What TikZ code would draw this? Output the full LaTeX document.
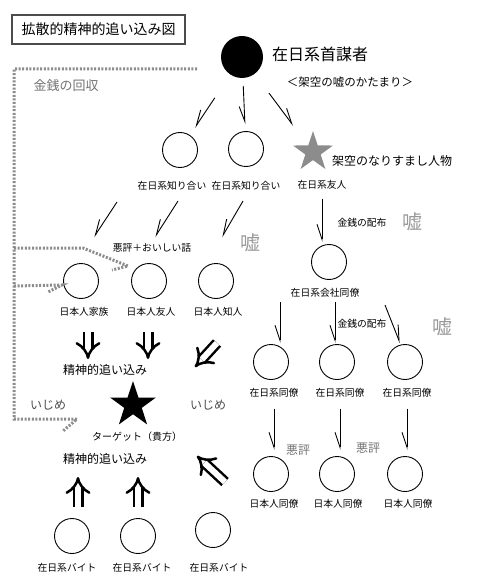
\documentclass[tikz,border=0pt]{standalone}
\usepackage{fontspec}
\setmainfont{Noto Sans CJK JP}
\usetikzlibrary{shapes.geometric, arrows.meta}

\begin{document}
\begin{tikzpicture}[x=1pt, y=-1pt,
    person/.style={circle, draw, line width=0.9pt, minimum size=35pt, inner sep=0pt},
    lbl/.style={font=\fontsize{9.8}{11}\selectfont, inner sep=0pt},
    mid/.style={font=\fontsize{12}{14}\selectfont, inner sep=0pt},
    lie/.style={font=\fontsize{20}{22}\selectfont, text=black!40, inner sep=0pt},
    barb/.style={line width=0.9pt, -{Straight Barb[harpoon, swap, length=15pt, width=10pt]}},
    barbr/.style={line width=0.9pt, -{Straight Barb[harpoon, length=15pt, width=10pt]}},
    push/.style={double, double distance=6pt, line width=2.5pt, -{Implies}},
    money/.style={line width=3pt, black!45, dash pattern=on 2pt off 1.6pt}]
    \useasboundingbox (0,0) rectangle (483,585);

    % Title
    \node[draw=black!70, line width=1.5pt, minimum width=173pt, minimum height=29pt,
          font=\fontsize{14}{16}\selectfont] (title) at (98.5,29.5) {拡散的精神的追い込み図};

    % Ringleader
    \node[circle, fill=black, minimum size=42pt, inner sep=0pt] (boss) at (242,57) {};
    \node[font=\fontsize{16}{18}\selectfont, inner sep=0pt] (bossLbl) at (320,54) {在日系首謀者};
    \node[font=\fontsize{11.5}{13}\selectfont, inner sep=0pt] (lump) at (350,82) {＜架空の嘘のかたまり＞};

    % Zainichi acquaintances
    \node[person] (acq1) at (180,150) {};
    \node[person] (acq2) at (246,149) {};
    \node[star, star points=5, star point ratio=2.6, fill=black!45, minimum size=42pt, inner sep=0pt] (fake) at (313,152) {};
    \node[mid] (fakeLbl) at (392,161) {架空のなりすまし人物};
    \node[lbl] (acq1Lbl) at (172,186) {在日系知り合い};
    \node[lbl] (acq2Lbl) at (246,186) {在日系知り合い};
    \node[lbl] (friendLbl) at (322,185) {在日系友人};

    \draw[barb, shorten <=49pt, shorten >=27pt] (boss.center) -- (acq1.center);
    \draw[barb, shorten <=29pt, shorten >=25pt] (boss.center) -- (acq2.center);
    \draw[barbr, shorten <=45pt, shorten >=33pt] (boss.center) -- (fake.center);

    % Japanese around the target
    \coordinate (r1a) at (117,202); \coordinate (r1b) at (94,237);
    \coordinate (r2a) at (178,201); \coordinate (r2b) at (155,237);
    \coordinate (r3a) at (243,201); \coordinate (r3b) at (222,237);
    \draw[barb] (r1a) -- (r1b);
    \draw[barb] (r2a) -- (r2b);
    \draw[barb] (r3a) -- (r3b);
    \node[lbl] (rumor) at (152,248) {悪評＋おいしい話};
    \node[lie] (lie1) at (250,243) {嘘};

    \node[person] (fam) at (81,281) {};
    \node[person] (pal) at (149,281) {};
    \node[person] (known) at (216,281) {};
    \node[lbl] (famLbl) at (84,312) {日本人家族};
    \node[lbl] (palLbl) at (151,312) {日本人友人};
    \node[lbl] (knownLbl) at (218,312) {日本人知人};

    % Target
    \coordinate (p1a) at (88,332); \coordinate (p1b) at (88,359);
    \coordinate (p2a) at (148,332); \coordinate (p2b) at (148,359);
    \coordinate (p3a) at (217,343); \coordinate (p3b) at (195,367);
    \draw[push] (p1a) -- (p1b);
    \draw[push] (p2a) -- (p2b);
    \draw[push] (p3a) -- (p3b);
    \node[mid] (press1) at (105,370) {精神的追い込み};
    \node[star, star points=5, star point ratio=2.6, fill=black, minimum size=48pt, inner sep=0pt] (target) at (133,405) {};
    \node[mid, text=black!70] (bully1) at (48,405) {いじめ};
    \node[mid, text=black!70] (bully2) at (208,405) {いじめ};
    \node[font=\fontsize{10}{12}\selectfont, inner sep=0pt] (targetLbl) at (137,437) {ターゲット（貴方）};
    \node[mid] (press2) at (105,459) {精神的追い込み};

    % Part-timers
    \coordinate (q1a) at (78,507); \coordinate (q1b) at (78,477);
    \coordinate (q2a) at (138,507); \coordinate (q2b) at (138,477);
    \coordinate (q3a) at (225,482); \coordinate (q3b) at (197,456);
    \draw[push] (q1a) -- (q1b);
    \draw[push] (q2a) -- (q2b);
    \draw[push] (q3a) -- (q3b);
    \node[person] (job1) at (72,536) {};
    \node[person] (job2) at (138,536) {};
    \node[person] (job3) at (213,530) {};
    \node[lbl] (job1Lbl) at (67,568) {在日系バイト};
    \node[lbl] (job2Lbl) at (142,568) {在日系バイト};
    \node[lbl] (job3Lbl) at (219,568) {在日系バイト};

    % Company side
    \node[person] (coworker) at (329,262) {};
    \node[lbl] (coworkerLbl) at (325,293) {在日系会社同僚};
    \draw[barb, shorten <=9pt, shorten >=2pt] (friendLbl.south) -- (friendLbl.south |- coworker.north);
    \node[lbl] (pay1) at (362,223) {金銭の配布};
    \node[lie] (lie2) at (412,222) {嘘};

    \coordinate (c1a) at (280,302); \coordinate (c1b) at (280,343);
    \coordinate (c2a) at (335,302); \coordinate (c2b) at (335,343);
    \coordinate (c3a) at (385,305); \coordinate (c3b) at (400,343);
    \draw[barb] (c1a) -- (c1b);
    \draw[barb] (c2a) -- (c2b);
    \draw[barbr] (c3a) -- (c3b);
    \node[lbl] (pay2) at (362,324) {金銭の配布};
    \node[lie] (lie3) at (442,327) {嘘};

    \node[person] (col1) at (271,362) {};
    \node[person] (col2) at (337,362) {};
    \node[person] (col3) at (405,362) {};
    \node[lbl] (col1Lbl) at (274,393) {在日系同僚};
    \node[lbl] (col2Lbl) at (340,393) {在日系同僚};
    \node[lbl] (col3Lbl) at (407,393) {在日系同僚};

    \node[person] (jpc1) at (271,474) {};
    \node[person] (jpc2) at (337,474) {};
    \node[person] (jpc3) at (405,474) {};
    \node[lbl] (jpc1Lbl) at (274,504) {日本人同僚};
    \node[lbl] (jpc2Lbl) at (338,504) {日本人同僚};
    \node[lbl] (jpc3Lbl) at (408,504) {日本人同僚};
    \draw[barb, shorten <=11pt, shorten >=6pt] (col1Lbl.south) -- (col1Lbl.south |- jpc1.north);
    \draw[barb, shorten <=11pt, shorten >=6pt] (col2Lbl.south) -- (col2Lbl.south |- jpc2.north);
    \draw[barb, shorten <=11pt, shorten >=6pt] (col3Lbl.south) -- (col3Lbl.south |- jpc3.north);
    \node[mid, text=black!55] (bad1) at (298,450) {悪評};
    \node[mid, text=black!55] (bad2) at (368,448) {悪評};

    % Money collected
    \coordinate (m0) at (197,69);
    \coordinate (m1) at (14,248);
    \coordinate (m2) at (14,286);
    \draw[money] (m0) -- (14,69) -- (14,419) -- (77,419) -- (63,431);
    \draw[money] (m1) -- (83,248) -- (128,266) -- (112,270);
    \draw[money] (m2) -- (62,285) -- (48,292);
    \node[font=\fontsize{13}{15}\selectfont, text=black!55, inner sep=0pt] (collect) at (66,86) {金銭の回収};
\end{tikzpicture}
\end{document}
